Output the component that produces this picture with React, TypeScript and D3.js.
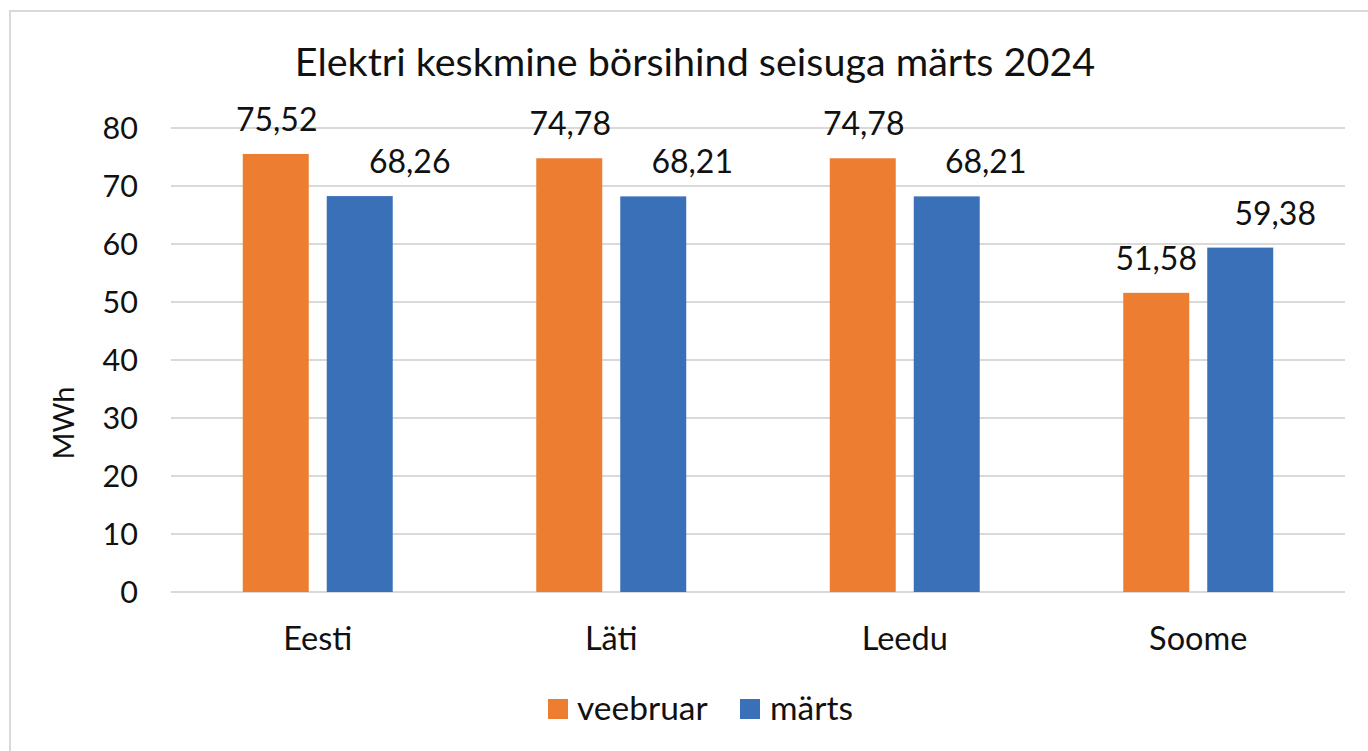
import React from "react";
import * as d3 from "d3";

const categories = ["Eesti", "Läti", "Leedu", "Soome"];
const seriesNames = ["veebruar", "märts"];
const veebruar = [75.52, 74.78, 74.78, 51.58];
const marts = [68.26, 68.21, 68.21, 59.38];
const yTicks = [0, 10, 20, 30, 40, 50, 60, 70, 80];
const title = "Elektri keskmine börsihind seisuga märts 2024";
const yTitle = "MWh";

const colors = ["#ED7D31", "#3A70B8"];
// horizontal nudges of the value labels (as placed in the original)
const labelNudge = [
  [1, 1, 1, 0],
  [50, 39, 39, 35],
];

const FONT = "Lato, 'Open Sans', sans-serif";
const fmt = (v: number) => v.toFixed(2).replace(".", ",");

export default function App() {
  const W = 1368, H = 751;
  const left = 171, right = 1345, top = 128, bottom = 592;
  const y = d3.scaleLinear().domain([0, 80]).range([bottom, top]);
  const x0 = d3.scaleBand<string>().domain(categories).range([left, right]).paddingInner(0.489).paddingOuter(0.2445);
  const x1 = d3.scaleBand<string>().domain(seriesNames).range([0, x0.bandwidth()]).paddingInner(0.2143);
  const data = [veebruar, marts];

  return (
    <svg width={W} height={H} style={{ position: "absolute", left: 0, top: 0, background: "#fff" }} fontFamily={FONT}>
      <rect x={10} y={11} width={1400} height={800} fill="#fff" stroke="#D9D9D9" strokeWidth={2} />
      <text x={695} y={76} textAnchor="middle" fontSize={39.5} fill="#111">{title}</text>
      {yTicks.map((t) => (
        <g key={t}>
          <line x1={left} x2={right} y1={y(t)} y2={y(t)} stroke="#D9D9D9" strokeWidth={2} />
          <text x={138} y={y(t)} dy="0.35em" textAnchor="end" fontSize={30.5} fill="#111">{t}</text>
        </g>
      ))}
      <text transform={`translate(74,423) rotate(-90)`} textAnchor="middle" fontSize={29} fill="#111">{yTitle}</text>
      {categories.map((c, ci) => (
        <g key={c}>
          {seriesNames.map((s, si) => {
            const v = data[si][ci];
            const bx = (x0(c) as number) + (x1(s) as number);
            return (
              <g key={s}>
                <rect x={bx} y={y(v)} width={x1.bandwidth()} height={y(0) - y(v)} fill={colors[si]} />
                <text x={bx + x1.bandwidth() / 2 + labelNudge[si][ci]} y={y(v) - 23} textAnchor="middle" fontSize={32} fill="#111">{fmt(v)}</text>
              </g>
            );
          })}
          <text x={(x0(c) as number) + x0.bandwidth() / 2} y={650} textAnchor="middle" fontSize={32.5} fill="#111">{c}</text>
        </g>
      ))}
      <g>
        <rect x={548} y={699} width={20} height={20} fill={colors[0]} />
        <text x={577} y={720} fontSize={33.5} fill="#111">{seriesNames[0]}</text>
        <rect x={740} y={699} width={20} height={20} fill={colors[1]} />
        <text x={770} y={720} fontSize={33.5} fill="#111">{seriesNames[1]}</text>
      </g>
    </svg>
  );
}
